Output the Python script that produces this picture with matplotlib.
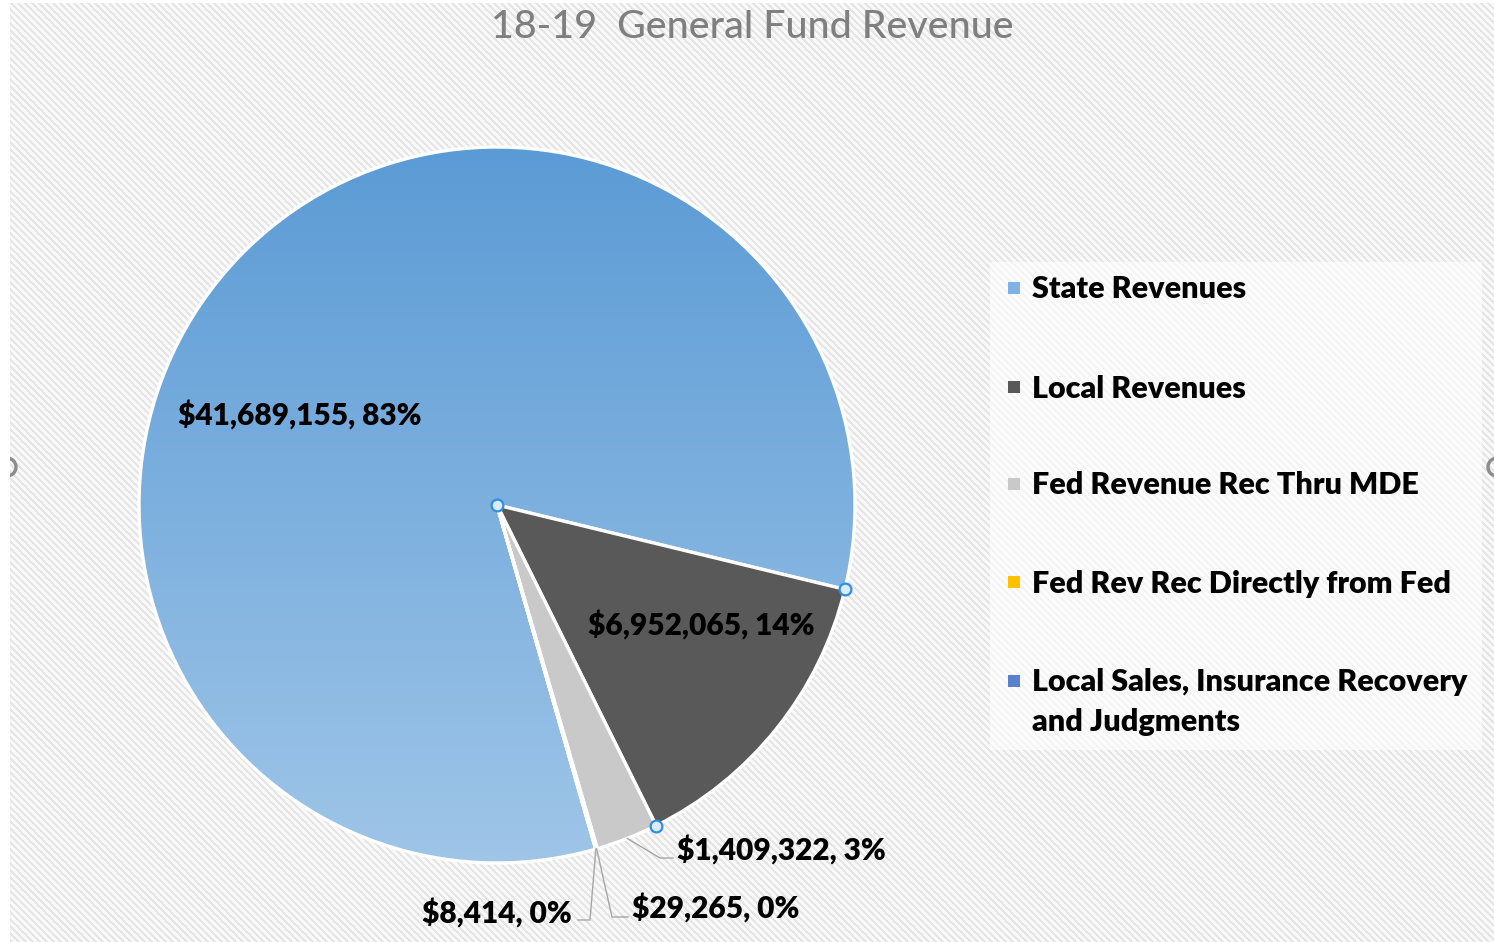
import numpy as np
import matplotlib.pyplot as plt
from matplotlib.patches import Rectangle, Circle
from matplotlib.colors import LinearSegmentedColormap

plt.rcParams['font.family'] = ['Lato', 'DejaVu Sans']

# data
categories = ['State Revenues', 'Local Revenues', 'Fed Revenue Rec Thru MDE',
              'Fed Rev Rec Directly from Fed',
              'Local Sales, Insurance Recovery\nand Judgments']
amounts = [41689155, 6952065, 1409322, 29265, 8414]
colors = ['#7aaee0', '#595959', '#c9c9c9', '#ffc000', '#5b80cc']
total = sum(amounts)

W, H = 1494, 942
fig = plt.figure(figsize=(W / 100, H / 100), dpi=100)

# striped chart background
bg = fig.add_axes([0, 0, 1, 1])
bg.set_xlim(0, W)
bg.set_ylim(H, 0)
bg.axis('off')
yy, xx = np.mgrid[0:H - 3, 0:W - 10]
stripes = np.where((xx - yy) % 7 < 3, 0.895, 0.975)
bg.imshow(stripes, cmap='gray', vmin=0, vmax=1, extent=(10, W, H, 3),
          interpolation='nearest', aspect='auto')
bg.add_patch(Rectangle((990, 262), 492, 488, facecolor='white', alpha=0.6, lw=0))
area = Rectangle((10, 3), W - 10, H - 3, transform=bg.transData)
for hx in (7, 1497):
    c = Circle((hx, 467), 9, facecolor='none', edgecolor='#8c8c8c', lw=2.4)
    bg.add_patch(c)
    c.set_clip_path(area)

# pie
cx, cy, r = 497, 505, 358
ax = fig.add_axes([(cx - r) / W, (H - cy - r) / H, 2 * r / W, 2 * r / H])
start = -74
wedges, _ = ax.pie(amounts, colors=colors, startangle=start, counterclock=False,
                   radius=1, wedgeprops=dict(edgecolor='white', linewidth=2.4))

# gradient fill for the big slice
grad = np.linspace(0, 1, 256).reshape(-1, 1)
cmap = LinearSegmentedColormap.from_list('state', ['#5b9bd5', '#9fc5e8'])
im = ax.imshow(grad, cmap=cmap, extent=(-1, 1, -1, 1), aspect='auto',
               origin='upper', zorder=0.5)
im.set_clip_path(wedges[0])
wedges[0].set_facecolor('none')
ax.set_xlim(-1, 1)
ax.set_ylim(-1, 1)
ax.axis('off')


def d(px, py):
    return (px - cx) / r, (cy - py) / r


fracs = np.array(amounts) / total
bounds = start - 360 * np.concatenate([[0], np.cumsum(fracs)])
mids = (bounds[:-1] + bounds[1:]) / 2

labels = [f'${v:,}, {round(100 * v / total)}%' for v in amounts]
lab_style = dict(fontsize=21.5, fontweight='heavy', color='black', va='baseline')

ax.text(*d(300, 425), labels[0], ha='center', **lab_style)
ax.text(*d(701, 635), labels[1], ha='center', **lab_style)
ax.text(*d(677, 860), labels[2], ha='left', **lab_style)
ax.text(*d(632, 918), labels[3], ha='left', **lab_style)
ax.text(*d(572, 923), labels[4], ha='right', **lab_style)

# leader lines
leaders = [(2, [(660, 858), (673, 858)]),
           (3, [(612, 917), (628, 917)]),
           (4, [(590, 920), (578, 920)])]
for i, pts in leaders:
    m = np.radians(mids[i])
    xs = [np.cos(m)] + [d(*p)[0] for p in pts]
    ys = [np.sin(m)] + [d(*p)[1] for p in pts]
    ax.plot(xs, ys, color='#a6a6a6', lw=1, clip_on=False)

# selection handles on the Local Revenues slice
t1, t2 = np.radians(bounds[1]), np.radians(bounds[2])
ax.plot([0, np.cos(t1), np.cos(t2)], [0, np.sin(t1), np.sin(t2)], 'o', ms=8.5,
        mfc='#dcebfa', mec='#2f8de4', mew=1.6, clip_on=False, zorder=5)

# title
fig.text(752 / W, 1 - 28 / H, '18-19  General Fund Revenue', ha='center', va='center',
         fontsize=28.4, fontweight='medium', color='#7f7f7f')

# legend
rows_y = [288, 387, 484, 582, 681]
for cat, col, ry in zip(categories, colors, rows_y):
    c = '#80b3e3' if col == colors[0] else col
    bg.add_patch(Rectangle((1008, ry - 6), 12, 12, facecolor=c, lw=0))
    for k, line in enumerate(cat.split('\n')):
        bg.text(1032, ry + 10.5 + 40 * k, line, ha='left', va='baseline', fontsize=22,
                fontweight='heavy', color='black')

fig.savefig('out.png', dpi=100)
